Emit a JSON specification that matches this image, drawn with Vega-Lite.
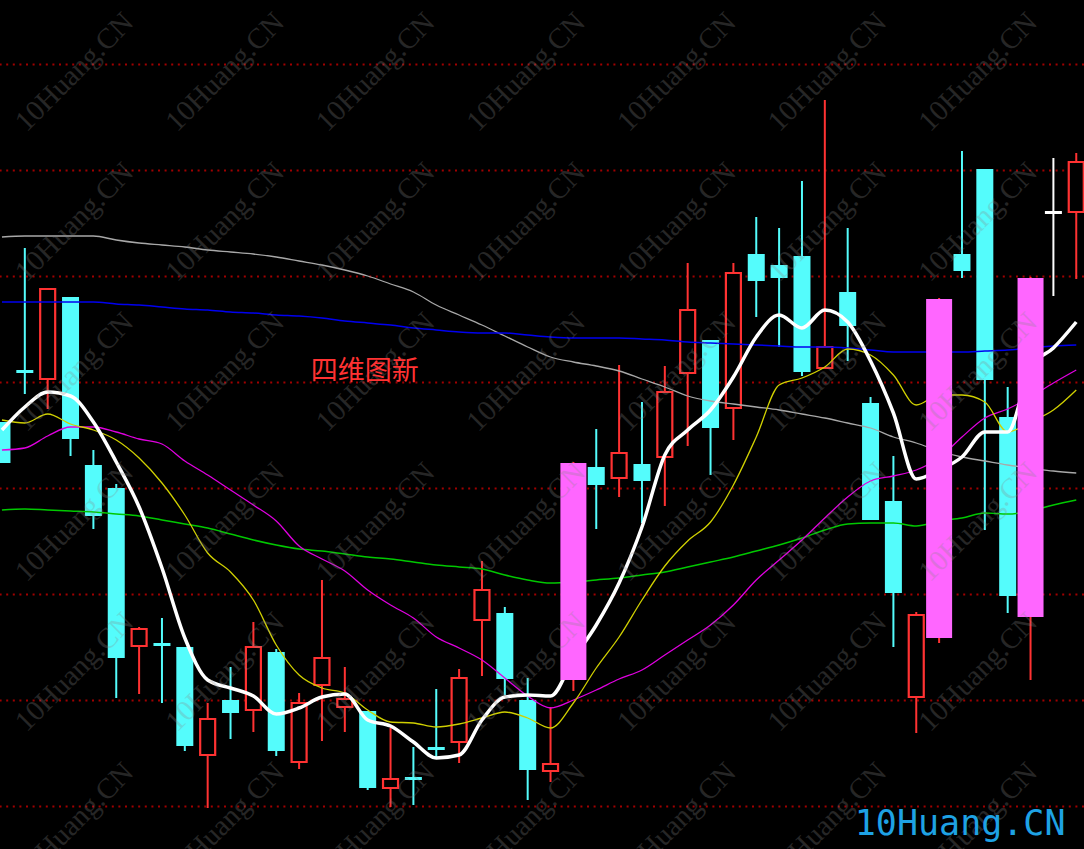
{
  "$schema": "https://vega.github.io/schema/vega-lite/v6.json",
  "width": 1084,
  "height": 849,
  "autosize": {"type": "none"},
  "padding": 0,
  "background": "#000000",
  "config": {"view": {"stroke": null}, "axis": {"disable": true}, "legend": {"disable": true}},
  "datasets": {
    "k": [
      {"i":0,"o":42.7,"h":42.7,"l":38.6,"c":38.6,"t":"down","ma5":41.9,"ma10":42.9,"ma20":39.9,"ma60":33.9,"ma120":54.7,"ma250":61.2},
      {"i":1,"o":47.9,"h":60.1,"l":45.5,"c":47.6,"t":"down","ma5":44.2,"ma10":42.6,"ma20":40.1,"ma60":34.0,"ma120":54.7,"ma250":61.3},
      {"i":2,"o":47.0,"h":56.0,"l":44.0,"c":56.0,"t":"up","ma5":45.7,"ma10":43.5,"ma20":41.3,"ma60":33.9,"ma120":54.7,"ma250":61.3},
      {"i":3,"o":55.2,"h":55.2,"l":39.3,"c":41.0,"t":"down","ma5":45.3,"ma10":42.5,"ma20":42.2,"ma60":33.8,"ma120":54.7,"ma250":61.3},
      {"i":4,"o":38.4,"h":39.9,"l":32.0,"c":33.3,"t":"down","ma5":42.7,"ma10":41.9,"ma20":42.2,"ma60":33.7,"ma120":54.7,"ma250":61.3},
      {"i":5,"o":36.1,"h":36.5,"l":15.1,"c":19.1,"t":"down","ma5":38.7,"ma10":40.9,"ma20":41.7,"ma60":33.5,"ma120":54.5,"ma250":60.9},
      {"i":6,"o":20.3,"h":22.2,"l":15.5,"c":22.0,"t":"up","ma5":34.2,"ma10":39.1,"ma20":41.0,"ma60":33.3,"ma120":54.4,"ma250":60.6},
      {"i":7,"o":20.6,"h":23.1,"l":14.6,"c":20.3,"t":"down","ma5":28.1,"ma10":36.6,"ma20":40.5,"ma60":32.9,"ma120":54.2,"ma250":60.4},
      {"i":8,"o":20.2,"h":20.2,"l":9.8,"c":10.3,"t":"down","ma5":21.1,"ma10":33.4,"ma20":38.8,"ma60":32.5,"ma120":54.0,"ma250":60.2},
      {"i":9,"o":9.4,"h":14.6,"l":4.1,"c":13.0,"t":"up","ma5":16.9,"ma10":29.6,"ma20":37.4,"ma60":32.1,"ma120":53.9,"ma250":59.9},
      {"i":10,"o":14.9,"h":18.2,"l":11.0,"c":13.6,"t":"down","ma5":16.1,"ma10":27.7,"ma20":35.9,"ma60":31.5,"ma120":53.7,"ma250":59.7},
      {"i":11,"o":13.9,"h":22.7,"l":11.7,"c":20.2,"t":"up","ma5":15.3,"ma10":24.9,"ma20":34.4,"ma60":30.9,"ma120":53.6,"ma250":59.5},
      {"i":12,"o":19.7,"h":20.0,"l":9.3,"c":9.8,"t":"down","ma5":13.5,"ma10":20.4,"ma20":32.8,"ma60":30.4,"ma120":53.4,"ma250":59.2},
      {"i":13,"o":8.7,"h":15.6,"l":8.0,"c":14.6,"t":"up","ma5":14.1,"ma10":17.4,"ma20":30.3,"ma60":30.0,"ma120":53.3,"ma250":58.8},
      {"i":14,"o":16.4,"h":26.9,"l":10.8,"c":19.1,"t":"up","ma5":15.2,"ma10":16.1,"ma20":29.0,"ma60":29.8,"ma120":53.1,"ma250":58.4},
      {"i":15,"o":14.2,"h":18.2,"l":11.7,"c":15.0,"t":"up","ma5":15.5,"ma10":15.6,"ma20":27.8,"ma60":29.5,"ma120":52.8,"ma250":57.9},
      {"i":16,"o":13.8,"h":13.8,"l":5.9,"c":6.1,"t":"down","ma5":12.9,"ma10":13.9,"ma20":25.9,"ma60":29.2,"ma120":52.6,"ma250":57.3},
      {"i":17,"o":6.1,"h":12.1,"l":4.2,"c":7.0,"t":"up","ma5":12.3,"ma10":12.7,"ma20":24.4,"ma60":29.0,"ma120":52.4,"ma250":56.5},
      {"i":18,"o":7.2,"h":10.2,"l":4.4,"c":6.9,"t":"down","ma5":10.7,"ma10":12.6,"ma20":23.1,"ma60":28.7,"ma120":52.1,"ma250":55.7},
      {"i":19,"o":10.2,"h":16.0,"l":9.0,"c":9.9,"t":"down","ma5":9.1,"ma10":12.2,"ma20":21.2,"ma60":28.4,"ma120":51.9,"ma250":54.4},
      {"i":20,"o":10.7,"h":18.0,"l":8.6,"c":17.1,"t":"up","ma5":9.4,"ma10":12.5,"ma20":20.1,"ma60":28.2,"ma120":51.7,"ma250":53.4},
      {"i":21,"o":22.9,"h":28.8,"l":17.3,"c":25.9,"t":"up","ma5":12.9,"ma10":13.1,"ma20":18.9,"ma60":28.0,"ma120":51.6,"ma250":52.4},
      {"i":22,"o":23.6,"h":24.2,"l":15.4,"c":17.0,"t":"down","ma5":15.2,"ma10":13.7,"ma20":17.1,"ma60":27.4,"ma120":51.6,"ma250":51.3},
      {"i":23,"o":14.9,"h":17.1,"l":4.9,"c":7.9,"t":"down","ma5":15.4,"ma10":13.1,"ma20":15.3,"ma60":26.9,"ma120":51.4,"ma250":50.2},
      {"i":24,"o":7.8,"h":14.2,"l":6.7,"c":8.5,"t":"up","ma5":15.3,"ma10":12.1,"ma20":14.1,"ma60":26.6,"ma120":51.2,"ma250":49.2},
      {"i":25,"o":16.9,"h":38.7,"l":15.8,"c":38.6,"t":"mag","ma5":19.0,"ma10":14.6,"ma20":14.9,"ma60":26.7,"ma120":51.1,"ma250":48.7},
      {"i":26,"o":38.2,"h":42.0,"l":32.0,"c":36.4,"t":"down","ma5":22.4,"ma10":18.1,"ma20":15.9,"ma60":26.9,"ma120":51.1,"ma250":48.3},
      {"i":27,"o":37.1,"h":48.4,"l":35.2,"c":39.6,"t":"up","ma5":26.6,"ma10":21.2,"ma20":17.0,"ma60":27.1,"ma120":51.1,"ma250":47.8},
      {"i":28,"o":38.5,"h":44.7,"l":32.6,"c":36.8,"t":"down","ma5":32.2,"ma10":24.9,"ma20":17.9,"ma60":27.4,"ma120":51.0,"ma250":47.0},
      {"i":29,"o":39.2,"h":48.3,"l":34.3,"c":45.7,"t":"up","ma5":39.4,"ma10":28.3,"ma20":19.4,"ma60":27.7,"ma120":50.9,"ma250":46.2},
      {"i":30,"o":47.6,"h":58.6,"l":40.3,"c":53.9,"t":"up","ma5":41.9,"ma10":30.8,"ma20":20.9,"ma60":28.2,"ma120":50.7,"ma250":45.3},
      {"i":31,"o":50.9,"h":50.9,"l":37.4,"c":42.1,"t":"down","ma5":43.9,"ma10":32.7,"ma20":22.4,"ma60":28.7,"ma120":50.6,"ma250":44.8},
      {"i":32,"o":44.1,"h":58.6,"l":40.9,"c":57.6,"t":"up","ma5":47.2,"ma10":36.4,"ma20":24.4,"ma60":29.2,"ma120":50.5,"ma250":44.5},
      {"i":33,"o":59.5,"h":63.2,"l":53.2,"c":56.8,"t":"down","ma5":51.2,"ma10":41.2,"ma20":26.9,"ma60":29.8,"ma120":50.4,"ma250":44.2},
      {"i":34,"o":58.4,"h":62.1,"l":50.2,"c":57.1,"t":"down","ma5":53.4,"ma10":46.4,"ma20":28.9,"ma60":30.4,"ma120":50.3,"ma250":43.9},
      {"i":35,"o":59.3,"h":66.8,"l":47.3,"c":47.7,"t":"down","ma5":52.1,"ma10":47.1,"ma20":30.9,"ma60":31.1,"ma120":50.2,"ma250":43.5},
      {"i":36,"o":48.1,"h":74.9,"l":48.1,"c":50.2,"t":"up","ma5":53.9,"ma10":48.2,"ma20":33.1,"ma60":31.9,"ma120":50.2,"ma250":43.1},
      {"i":37,"o":55.7,"h":62.1,"l":48.8,"c":52.3,"t":"down","ma5":52.7,"ma10":50.0,"ma20":35.2,"ma60":32.5,"ma120":50.1,"ma250":42.6},
      {"i":38,"o":44.6,"h":45.2,"l":32.9,"c":32.9,"t":"down","ma5":48.8,"ma10":49.4,"ma20":36.8,"ma60":32.6,"ma120":49.9,"ma250":42.1},
      {"i":39,"o":34.8,"h":39.3,"l":20.2,"c":25.6,"t":"down","ma5":43.6,"ma10":47.4,"ma20":37.3,"ma60":32.6,"ma120":49.7,"ma250":41.2},
      {"i":40,"o":15.2,"h":23.7,"l":11.6,"c":23.4,"t":"up","ma5":37.0,"ma10":44.4,"ma20":37.9,"ma60":32.3,"ma120":49.7,"ma250":40.6},
      {"i":41,"o":21.1,"h":55.1,"l":20.6,"c":55.0,"t":"mag","ma5":37.9,"ma10":45.4,"ma20":39.1,"ma60":32.8,"ma120":49.7,"ma250":39.8},
      {"i":42,"o":59.5,"h":69.8,"l":57.1,"c":57.8,"t":"down","ma5":39.2,"ma10":45.4,"ma20":41.2,"ma60":33.1,"ma120":49.7,"ma250":39.2},
      {"i":43,"o":68.0,"h":68.0,"l":31.9,"c":46.9,"t":"down","ma5":41.7,"ma10":44.7,"ma20":43.1,"ma60":33.6,"ma120":49.8,"ma250":38.8},
      {"i":44,"o":43.2,"h":46.2,"l":23.6,"c":25.3,"t":"down","ma5":41.7,"ma10":41.7,"ma20":44.0,"ma60":33.5,"ma120":49.9,"ma250":38.4},
      {"i":45,"o":23.2,"h":57.2,"l":16.9,"c":57.1,"t":"mag","ma5":48.2,"ma10":42.7,"ma20":45.2,"ma60":33.8,"ma120":50.1,"ma250":38.1},
      {"i":46,"o":63.8,"h":69.1,"l":55.3,"c":63.5,"t":"cur","ma5":50.1,"ma10":43.9,"ma20":46.6,"ma60":34.4,"ma120":50.3,"ma250":37.8},
      {"i":47,"o":63.7,"h":69.6,"l":57.0,"c":68.7,"t":"up","ma5":52.7,"ma10":45.9,"ma20":47.9,"ma60":34.9,"ma120":50.4,"ma250":37.6}
    ],
    "grid": [{"g":4.25},{"g":14.85},{"g":25.45},{"g":36.05},{"g":46.65},{"g":57.25},{"g":67.85},{"g":78.45}],
    "wm": [
      {"wx":3.17,"wy":77.7},{"wx":9.76,"wy":77.7},{"wx":16.34,"wy":77.7},{"wx":22.93,"wy":77.7},{"wx":29.52,"wy":77.7},{"wx":36.11,"wy":77.7},{"wx":42.7,"wy":77.7},
      {"wx":3.17,"wy":62.7},{"wx":9.76,"wy":62.7},{"wx":16.34,"wy":62.7},{"wx":22.93,"wy":62.7},{"wx":29.52,"wy":62.7},{"wx":36.11,"wy":62.7},{"wx":42.7,"wy":62.7},
      {"wx":3.17,"wy":47.7},{"wx":9.76,"wy":47.7},{"wx":16.34,"wy":47.7},{"wx":22.93,"wy":47.7},{"wx":29.52,"wy":47.7},{"wx":36.11,"wy":47.7},{"wx":42.7,"wy":47.7},
      {"wx":3.17,"wy":32.7},{"wx":9.76,"wy":32.7},{"wx":16.34,"wy":32.7},{"wx":22.93,"wy":32.7},{"wx":29.52,"wy":32.7},{"wx":36.11,"wy":32.7},{"wx":42.7,"wy":32.7},
      {"wx":3.17,"wy":17.7},{"wx":9.76,"wy":17.7},{"wx":16.34,"wy":17.7},{"wx":22.93,"wy":17.7},{"wx":29.52,"wy":17.7},{"wx":36.11,"wy":17.7},{"wx":42.7,"wy":17.7},
      {"wx":3.17,"wy":2.7},{"wx":9.76,"wy":2.7},{"wx":16.34,"wy":2.7},{"wx":22.93,"wy":2.7},{"wx":29.52,"wy":2.7},{"wx":36.11,"wy":2.7},{"wx":42.7,"wy":2.7}
    ]
  },
  "layer": [
    {
      "data": {"name": "grid"},
      "mark": {"type": "rule", "stroke": "#a00000", "strokeWidth": 2, "strokeDash": [2, 4.6]},
      "encoding": {"y": {"field": "g", "type": "quantitative", "scale": {"domain": [0, 84.9], "nice": false, "zero": false}}}
    },
    {
      "data": {"name": "k"},
      "mark": {"type": "rule", "strokeWidth": 2, "clip": true},
      "encoding": {
        "x": {"field": "i", "type": "quantitative", "scale": {"domain": [0.133, 47.12], "nice": false, "zero": false}},
        "y": {"field": "l", "type": "quantitative", "scale": {"domain": [0, 84.9], "nice": false, "zero": false}},
        "y2": {"field": "h"},
        "color": {"field": "t", "type": "nominal", "scale": {"domain": ["up", "down", "mag", "cur"], "range": ["#ff3232", "#54fcfc", "#ff3232", "#ffffff"]}}
      }
    },
    {
      "data": {"name": "k"},
      "transform": [{"filter": "datum.t == 'up'"}],
      "mark": {"type": "bar", "width": 15, "fill": "#000000", "stroke": "#ff3232", "strokeWidth": 2.2, "clip": true},
      "encoding": {
        "x": {"field": "i", "type": "quantitative", "scale": {"domain": [0.133, 47.12], "nice": false, "zero": false}},
        "y": {"field": "o", "type": "quantitative", "scale": {"domain": [0, 84.9], "nice": false, "zero": false}},
        "y2": {"field": "c"}
      }
    },
    {
      "data": {"name": "k"},
      "transform": [{"filter": "datum.t == 'down'"}],
      "mark": {"type": "bar", "width": 17, "fill": "#54fcfc", "clip": true},
      "encoding": {
        "x": {"field": "i", "type": "quantitative", "scale": {"domain": [0.133, 47.12], "nice": false, "zero": false}},
        "y": {"field": "o", "type": "quantitative", "scale": {"domain": [0, 84.9], "nice": false, "zero": false}},
        "y2": {"field": "c"}
      }
    },
    {
      "data": {"name": "k"},
      "transform": [{"filter": "datum.t == 'cur'"}],
      "mark": {"type": "bar", "width": 17, "fill": "#ffffff", "clip": true},
      "encoding": {
        "x": {"field": "i", "type": "quantitative", "scale": {"domain": [0.133, 47.12], "nice": false, "zero": false}},
        "y": {"field": "o", "type": "quantitative", "scale": {"domain": [0, 84.9], "nice": false, "zero": false}},
        "y2": {"field": "c"}
      }
    },
    {
      "data": {"name": "k"},
      "mark": {"type": "line", "stroke": "#a8a8a8", "strokeWidth": 1.3, "interpolate": "monotone", "clip": true},
      "encoding": {
        "x": {"field": "i", "type": "quantitative", "scale": {"domain": [0.133, 47.12], "nice": false, "zero": false}},
        "y": {"field": "ma250", "type": "quantitative", "scale": {"domain": [0, 84.9], "nice": false, "zero": false}}
      }
    },
    {
      "data": {"name": "k"},
      "mark": {"type": "line", "stroke": "#0000f0", "strokeWidth": 1.5, "interpolate": "monotone", "clip": true},
      "encoding": {
        "x": {"field": "i", "type": "quantitative", "scale": {"domain": [0.133, 47.12], "nice": false, "zero": false}},
        "y": {"field": "ma120", "type": "quantitative", "scale": {"domain": [0, 84.9], "nice": false, "zero": false}}
      }
    },
    {
      "data": {"name": "k"},
      "mark": {"type": "line", "stroke": "#00c800", "strokeWidth": 1.5, "interpolate": "monotone", "clip": true},
      "encoding": {
        "x": {"field": "i", "type": "quantitative", "scale": {"domain": [0.133, 47.12], "nice": false, "zero": false}},
        "y": {"field": "ma60", "type": "quantitative", "scale": {"domain": [0, 84.9], "nice": false, "zero": false}}
      }
    },
    {
      "data": {"name": "k"},
      "mark": {"type": "line", "stroke": "#e000e0", "strokeWidth": 1.3, "interpolate": "monotone", "clip": true},
      "encoding": {
        "x": {"field": "i", "type": "quantitative", "scale": {"domain": [0.133, 47.12], "nice": false, "zero": false}},
        "y": {"field": "ma20", "type": "quantitative", "scale": {"domain": [0, 84.9], "nice": false, "zero": false}}
      }
    },
    {
      "data": {"name": "k"},
      "mark": {"type": "line", "stroke": "#d0d000", "strokeWidth": 1.3, "interpolate": "monotone", "clip": true},
      "encoding": {
        "x": {"field": "i", "type": "quantitative", "scale": {"domain": [0.133, 47.12], "nice": false, "zero": false}},
        "y": {"field": "ma10", "type": "quantitative", "scale": {"domain": [0, 84.9], "nice": false, "zero": false}}
      }
    },
    {
      "data": {"name": "k"},
      "mark": {"type": "line", "stroke": "#ffffff", "strokeWidth": 3.5, "strokeJoin": "round", "interpolate": "monotone", "clip": true},
      "encoding": {
        "x": {"field": "i", "type": "quantitative", "scale": {"domain": [0.133, 47.12], "nice": false, "zero": false}},
        "y": {"field": "ma5", "type": "quantitative", "scale": {"domain": [0, 84.9], "nice": false, "zero": false}}
      }
    },
    {
      "data": {"name": "k"},
      "transform": [{"filter": "datum.t == 'mag'"}],
      "mark": {"type": "bar", "width": 26, "fill": "#ff66ff", "clip": true},
      "encoding": {
        "x": {"field": "i", "type": "quantitative", "scale": {"domain": [0.133, 47.12], "nice": false, "zero": false}},
        "y": {"field": "o", "type": "quantitative", "scale": {"domain": [0, 84.9], "nice": false, "zero": false}},
        "y2": {"field": "c"}
      }
    },
    {
      "data": {"name": "wm"},
      "mark": {"type": "text", "text": "10Huang.CN", "font": "Liberation Serif", "fontSize": 29, "angle": -45, "align": "center", "baseline": "middle", "fill": "#888888", "opacity": 0.28},
      "encoding": {
        "x": {"field": "wx", "type": "quantitative", "scale": {"domain": [0.133, 47.12], "nice": false, "zero": false}},
        "y": {"field": "wy", "type": "quantitative", "scale": {"domain": [0, 84.9], "nice": false, "zero": false}}
      }
    },
    {
      "data": {"values": [{"lx": 15.87, "ly": 47.7, "txt": "四维图新"}]},
      "mark": {"type": "text", "font": "Noto Sans CJK SC", "fontSize": 27, "align": "center", "baseline": "middle", "fill": "#ff3232"},
      "encoding": {
        "x": {"field": "lx", "type": "quantitative", "scale": {"domain": [0.133, 47.12], "nice": false, "zero": false}},
        "y": {"field": "ly", "type": "quantitative", "scale": {"domain": [0, 84.9], "nice": false, "zero": false}},
        "text": {"field": "txt"}
      }
    },
    {
      "data": {"values": [{"lx": 41.92, "ly": 2.5, "txt": "10Huang.CN"}]},
      "mark": {"type": "text", "font": "DejaVu Sans Mono", "fontSize": 35, "align": "center", "baseline": "middle", "fill": "#1ea2e4"},
      "encoding": {
        "x": {"field": "lx", "type": "quantitative", "scale": {"domain": [0.133, 47.12], "nice": false, "zero": false}},
        "y": {"field": "ly", "type": "quantitative", "scale": {"domain": [0, 84.9], "nice": false, "zero": false}},
        "text": {"field": "txt"}
      }
    }
  ]
}
